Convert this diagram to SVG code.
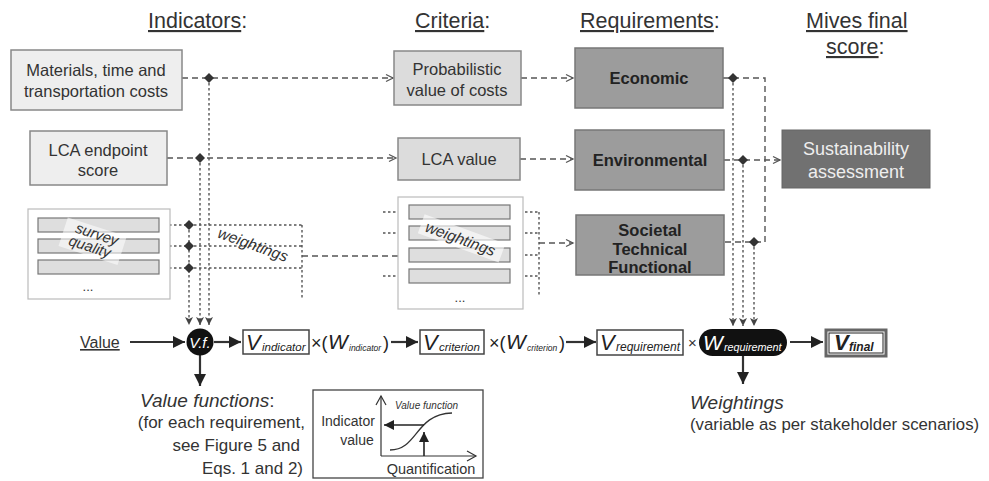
<svg xmlns="http://www.w3.org/2000/svg" width="989" height="481" viewBox="0 0 989 481">
  <defs>
    <style>
      text { font-family: "Liberation Sans", Arial, sans-serif; fill: #333; }
      .hdr { font-size: 21.5px; }
      .lbl { font-size: 16.5px; text-anchor: middle; }
      .req { font-size: 16.5px; font-weight: bold; text-anchor: middle; fill: #222; }
      .ind { fill: #eeeeee; stroke: #888; stroke-width: 1.5; }
      .crit { fill: #dcdcdc; stroke: #888; stroke-width: 1.5; }
      .reqbox { fill: #9c9c9c; stroke: #777; stroke-width: 1.5; }
      .frame { fill: #fff; stroke: #bbb; stroke-width: 1.2; }
      .bar { fill: #dedede; stroke: #777; stroke-width: 1.2; }
      .dash { fill: none; stroke: #555; stroke-width: 1.4; stroke-dasharray: 6 4; }
      .dot { fill: none; stroke: #555; stroke-width: 1.4; stroke-dasharray: 2.5 2.5; }
      .solid { fill: none; stroke: #333; stroke-width: 2.2; }
      .eqbox { fill: #fff; stroke: #444; stroke-width: 1.5; }
      .junction { fill: #333; }
      .V { font-size: 22px; font-style: italic; fill: #222; }
      .W { font-size: 21px; font-style: italic; fill: #222; }
      .sub { font-size: 12px; font-style: italic; fill: #222; }
      .wsub { font-size: 8.5px; font-style: italic; fill: #222; }
      .op { font-size: 18px; fill: #222; }
      .it { font-style: italic; }
    </style>
    <marker id="open" markerWidth="10" markerHeight="10" refX="8" refY="5" orient="auto" markerUnits="userSpaceOnUse">
      <path d="M1,1.5 L8,5 L1,8.5" fill="none" stroke="#555" stroke-width="1.3"/>
    </marker>
    <marker id="tri" markerWidth="10" markerHeight="10" refX="8" refY="5" orient="auto" markerUnits="userSpaceOnUse">
      <path d="M0,1 L8,5 L0,9 L2,5 Z" fill="#444"/>
    </marker>
    <marker id="solidhead" markerWidth="14" markerHeight="14" refX="12" refY="7" orient="auto" markerUnits="userSpaceOnUse">
      <path d="M0,1 L12,7 L0,13 Z" fill="#222"/>
    </marker>
    <marker id="thin" markerWidth="12" markerHeight="12" refX="10" refY="6" orient="auto" markerUnits="userSpaceOnUse">
      <path d="M0,1 L10,6 L0,11 Z" fill="#222"/>
    </marker>
    <marker id="chev" markerWidth="12" markerHeight="12" refX="10" refY="6" orient="auto" markerUnits="userSpaceOnUse">
      <path d="M1,1 L10,6 L1,11" fill="none" stroke="#333" stroke-width="1.2"/>
    </marker>
  </defs>

  <rect width="989" height="481" fill="#fff"/>

  <!-- column headings -->
  <g id="headings">
    <text class="hdr" x="148" y="28"><tspan text-decoration="underline">Indicators</tspan>:</text>
    <text class="hdr" x="415" y="28"><tspan text-decoration="underline">Criteria</tspan>:</text>
    <text class="hdr" x="580" y="28"><tspan text-decoration="underline">Requirements</tspan>:</text>
    <text class="hdr" x="806" y="28" text-decoration="underline">Mives final</text>
    <text class="hdr" x="826" y="54"><tspan text-decoration="underline">score</tspan>:</text>
  </g>

  <!-- connectors -->
  <g id="connectors">
    <!-- indicator -> criteria -->
    <path class="dash" d="M182,78 H393" marker-end="url(#open)"/>
    <path class="dash" d="M167,158 H396" marker-end="url(#open)"/>
    <path class="dot" d="M159,225 H302 M159,246 H302 M159,268 H302 M302,225 V298"/>
    <path class="dash" d="M302,256 H407" marker-end="url(#open)"/>
    <!-- verticals to value function -->
    <path class="dot" d="M209,78 V325" marker-end="url(#tri)"/>
    <path class="dot" d="M200,158 V325" marker-end="url(#tri)"/>
    <path class="dot" d="M189,225 V325" marker-end="url(#tri)"/>
    <!-- criteria -> requirements -->
    <path class="dash" d="M521,78 H573" marker-end="url(#open)"/>
    <path class="dash" d="M520,159 H573" marker-end="url(#open)"/>
    <path class="dot" d="M383,212 H409 M383,233 H409 M383,276 H409"/>
    <path class="dot" d="M510,212 H539 M510,233 H539 M510,255 H539 M510,276 H539 M539,212 V296"/>
    <path class="dash" d="M539,243 H573" marker-end="url(#open)"/>
    <!-- requirements -> sustainability -->
    <path class="dash" d="M723,78 H765 V242 H724"/>
    <path class="dash" d="M724,160 H780" marker-end="url(#open)"/>
    <path class="dot" d="M733,78 V326" marker-end="url(#tri)"/>
    <path class="dot" d="M743,160 V326" marker-end="url(#tri)"/>
    <path class="dot" d="M754,242 V326" marker-end="url(#tri)"/>
    <!-- junction markers -->
    <g class="junction">
      <path d="M209,73 L214,78 L209,83 L204,78 Z"/>
      <path d="M200,153 L205,158 L200,163 L195,158 Z"/>
      <path d="M189,220 L194,225 L189,230 L184,225 Z"/>
      <path d="M189,241 L194,246 L189,251 L184,246 Z"/>
      <path d="M189,263 L194,268 L189,273 L184,268 Z"/>
      <path d="M733,73 L738,78 L733,83 L728,78 Z"/>
      <path d="M743,155 L748,160 L743,165 L738,160 Z"/>
      <path d="M754,237 L759,242 L754,247 L749,242 Z"/>
    </g>
    <!-- calculation chain -->
    <path class="solid" d="M130,342 H185" marker-end="url(#solidhead)"/>
    <path class="solid" d="M214,342 H241" marker-end="url(#solidhead)"/>
    <path class="solid" d="M391,342 H418" marker-end="url(#solidhead)"/>
    <path class="solid" d="M566,342 H596" marker-end="url(#solidhead)"/>
    <path class="solid" d="M790,342 H823" marker-end="url(#solidhead)"/>
    <path class="solid" d="M200,355 V386" marker-end="url(#solidhead)"/>
    <path class="solid" d="M743,356 V384" marker-end="url(#solidhead)"/>
  </g>

  <!-- indicators -->
  <g id="ind-costs">
    <rect class="ind" x="11" y="50" width="171" height="60"/>
    <text class="lbl" x="96" y="76">Materials, time and</text>
    <text class="lbl" x="96" y="97">transportation costs</text>
  </g>
  <g id="ind-lca">
    <rect class="ind" x="30" y="131" width="137" height="54"/>
    <text class="lbl" x="98" y="156">LCA endpoint</text>
    <text class="lbl" x="98" y="176">score</text>
  </g>
  <g id="ind-survey">
    <rect class="frame" x="28" y="209" width="142" height="90"/>
    <rect class="bar" x="38" y="218" width="121" height="14"/>
    <rect class="bar" x="38" y="239" width="121" height="14"/>
    <rect class="bar" x="38" y="260" width="121" height="14"/>
    <text x="88" y="291" font-size="13" text-anchor="middle">...</text>
    <g transform="rotate(18 92 240)">
      <rect x="62" y="226" width="62" height="30" fill="#fff" opacity="0.55"/>
      <text class="it" x="95" y="238" font-size="15" text-anchor="middle" fill="#444">survey</text>
      <text class="it" x="92" y="252" font-size="15" text-anchor="middle" fill="#444">quality</text>
    </g>
  </g>
  <g id="ind-weightings-label">
    <text class="it" x="253" y="250" font-size="15.5" text-anchor="middle" fill="#444" transform="rotate(20 253 245)">weightings</text>
  </g>

  <!-- criteria -->
  <g id="crit-prob">
    <rect class="crit" x="394" y="51" width="127" height="54"/>
    <text class="lbl" x="457" y="75">Probabilistic</text>
    <text class="lbl" x="457" y="96">value of costs</text>
  </g>
  <g id="crit-lca">
    <rect class="crit" x="398" y="138" width="122" height="42"/>
    <text class="lbl" x="459" y="165">LCA value</text>
  </g>
  <g id="crit-weightings">
    <rect class="frame" x="398" y="197" width="125" height="112"/>
    <rect class="bar" x="409" y="205" width="101" height="14"/>
    <rect class="bar" x="409" y="226" width="101" height="14"/>
    <rect class="bar" x="409" y="248" width="101" height="14"/>
    <rect class="bar" x="409" y="269" width="101" height="14"/>
    <text x="460" y="302" font-size="13" text-anchor="middle">...</text>
    <g transform="rotate(20 460 240)">
      <rect x="418" y="228" width="86" height="20" fill="#fff" opacity="0.6"/>
      <text class="it" x="460" y="244" font-size="15.5" text-anchor="middle" fill="#444">weightings</text>
    </g>
  </g>

  <!-- requirements -->
  <g id="req-econ">
    <rect class="reqbox" x="575" y="48" width="148" height="60"/>
    <text class="req" x="649" y="84">Economic</text>
  </g>
  <g id="req-env">
    <rect class="reqbox" x="575" y="130" width="149" height="60"/>
    <text class="req" x="650" y="166">Environmental</text>
  </g>
  <g id="req-soc">
    <rect class="reqbox" x="576" y="215" width="148" height="60"/>
    <text class="req" x="650" y="236">Societal</text>
    <text class="req" x="650" y="255">Technical</text>
    <text class="req" x="650" y="273">Functional</text>
  </g>

  <!-- final score -->
  <g id="sustainability">
    <rect x="782" y="130" width="148" height="58" fill="#717171" stroke="#666" stroke-width="1"/>
    <text class="lbl" x="856" y="155" style="fill:#eee;font-size:18px">Sustainability</text>
    <text class="lbl" x="856" y="178" style="fill:#eee;font-size:18px">assessment</text>
  </g>

  <!-- calculation chain -->
  <g id="value">
    <text x="80" y="348" font-size="16" text-decoration="underline">Value</text>
  </g>
  <g id="vf">
    <circle cx="200" cy="342" r="13.5" fill="#111"/>
    <text x="200" y="348" font-size="15" font-style="italic" text-anchor="middle" style="fill:#fff">V.f.</text>
  </g>
  <g id="v-indicator">
    <rect class="eqbox" x="243" y="330" width="66" height="24"/>
    <text class="V" x="246" y="350">V<tspan class="sub" x="262" dy="1" style="font-size:11.5px">indicator</tspan></text>
  </g>
  <g id="w-indicator">
    <text class="op" x="311" y="349">×(<tspan class="W" x="328">W</tspan><tspan class="wsub" x="349" dy="2">indicator</tspan><tspan x="383" dy="-2">)</tspan></text>
  </g>
  <g id="v-criterion">
    <rect class="eqbox" x="420" y="330" width="64" height="24"/>
    <text class="V" x="423" y="350">V<tspan class="sub" x="439" dy="1" style="font-size:11.5px">criterion</tspan></text>
  </g>
  <g id="w-criterion">
    <text class="op" x="489" y="349">×(<tspan class="W" x="506">W</tspan><tspan class="wsub" x="527" dy="2">criterion</tspan><tspan x="559" dy="-2">)</tspan></text>
  </g>
  <g id="v-requirement">
    <rect class="eqbox" x="597" y="330" width="86" height="25"/>
    <text class="V" x="600" y="350">V<tspan class="sub" x="616" dy="1">requirement</tspan></text>
  </g>
  <g id="w-requirement">
    <text x="688" y="348" font-size="15" fill="#222">×</text>
    <rect x="699" y="329" width="88" height="27" rx="13.5" fill="#111"/>
    <text class="W" x="703" y="350" style="fill:#fff">W<tspan class="sub" x="724" dy="1" style="fill:#fff;font-size:10.8px">requirement</tspan></text>
  </g>
  <g id="v-final">
    <rect x="826" y="330" width="60" height="26" fill="#fff" stroke="#666" stroke-width="3"/>
    <rect x="829" y="333" width="54" height="20" fill="none" stroke="#222" stroke-width="1"/>
    <text class="V" x="834" y="350" style="font-weight:bold">V<tspan class="sub" x="849" dy="1" style="font-weight:bold">final</tspan></text>
  </g>

  <!-- value function notes -->
  <g id="vf-note">
    <text x="140" y="407" font-size="19" font-style="italic">Value functions<tspan font-style="normal">:</tspan></text>
    <text x="305" y="428" font-size="17" text-anchor="end">(for each requirement,</text>
    <text x="300" y="451" font-size="17" text-anchor="end">see Figure 5 and</text>
    <text x="303" y="474" font-size="17" text-anchor="end">Eqs. 1 and 2)</text>
  </g>
  <g id="vf-inset">
    <rect x="313" y="390" width="170" height="88" fill="#fff" stroke="#444" stroke-width="1.3"/>
    <path d="M381,456 V396" fill="none" stroke="#333" stroke-width="1.2" marker-end="url(#chev)"/>
    <path d="M381,456 H476" fill="none" stroke="#333" stroke-width="1.2" marker-end="url(#chev)"/>
    <path d="M390,450 C418,450 415,414 452,413" fill="none" stroke="#333" stroke-width="1.3"/>
    <path d="M424,456 V432" fill="none" stroke="#222" stroke-width="1.6" marker-end="url(#thin)"/>
    <path d="M424,425 H384" fill="none" stroke="#222" stroke-width="1.6" marker-end="url(#thin)"/>
    <text x="395" y="409" font-size="10" font-style="italic">Value function</text>
    <text x="348" y="426" font-size="14" text-anchor="middle">Indicator</text>
    <text x="357" y="445" font-size="14" text-anchor="middle">value</text>
    <text x="431" y="474" font-size="14.5" text-anchor="middle">Quantification</text>
  </g>
  <g id="weightings-note">
    <text x="690" y="409" font-size="19" font-style="italic">Weightings</text>
    <text x="690" y="430" font-size="16.8">(variable as per stakeholder scenarios)</text>
  </g>
</svg>
